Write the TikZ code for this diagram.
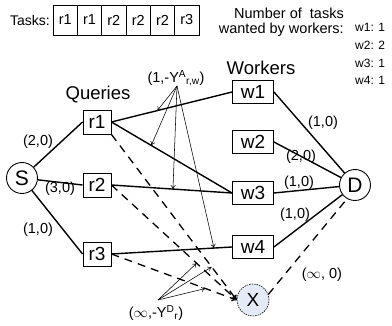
\documentclass[tikz,border=0pt]{standalone}
\usepackage{fontspec}
\setmainfont{Liberation Sans}
\usetikzlibrary{arrows.meta}
\definecolor{xfill}{HTML}{E4EBF7}
\begin{document}
\begin{tikzpicture}[x=1pt,y=-1pt,
  qbox/.style={draw,line width=0.9pt,minimum width=28pt,minimum height=24pt,inner sep=0pt,font=\fontsize{19}{19}\selectfont},
  wbox/.style={draw,line width=0.9pt,minimum width=41pt,minimum height=23pt,inner sep=0pt,font=\fontsize{19}{19}\selectfont},
  term/.style={draw,circle,line width=0.9pt,minimum size=31pt,inner sep=0pt,font=\fontsize{21}{21}\selectfont},
  tbox/.style={draw,line width=0.8pt,minimum width=24.33pt,minimum height=30pt,inner sep=0pt,font=\fontsize{14.5}{14.5}\selectfont},
  elab/.style={font=\fontsize{14.5}{14.5}\selectfont,inner sep=0pt},
  small/.style={font=\fontsize{12}{12}\selectfont,inner sep=0pt},
  hdr/.style={font=\fontsize{18.5}{18.5}\selectfont,inner sep=0pt},
  edge/.style={line width=1.4pt},
  dedge/.style={line width=1.3pt,dash pattern=on 8pt off 6pt},
  ann/.style={line width=0.55pt,-{To[length=4pt,width=5pt]}},
]
\useasboundingbox[fill=white] (0,0) rectangle (392,326);

% task row
\node[font=\fontsize{14}{14}\selectfont,inner sep=0pt] (tl) at (30,20) {Tasks:};
\node[tbox] (t1) at (65.2,20) {r1};
\node[tbox] (t2) at (89.5,20) {r1};
\node[tbox] (t3) at (113.8,20) {r2};
\node[tbox] (t4) at (138.2,20) {r2};
\node[tbox] (t5) at (162.5,20) {r2};
\node[tbox] (t6) at (186.8,20) {r3};

\node[elab,anchor=east] (n1) at (344,13) {Number of\ \ tasks};
\node[elab,anchor=east] (n2) at (344,30) {wanted by workers:};
\node[small,anchor=west] (c1) at (355,27) {w1: 1};
\node[small,anchor=west] (c2) at (355,45) {w2: 2};
\node[small,anchor=west] (c3) at (355,63) {w3: 1};
\node[small,anchor=west] (c4) at (355,80) {w4: 1};

% headers
\node[hdr] (ql) at (98,95) {Queries};
\node[hdr] (wl) at (261,68) {Workers};

% nodes
\node[term] (S) at (22,178) {S};
\node[qbox] (r1) at (97,122) {r1};
\node[qbox] (r2) at (97,185) {r2};
\node[qbox] (r3) at (97,254) {r3};
\node[wbox] (w1) at (253,92) {w1};
\node[wbox] (w2) at (253,142) {w2};
\node[wbox] (w3) at (253,193) {w3};
\node[wbox] (w4) at (253,247) {w4};
\node[term] (D) at (355,185) {D};
\node[circle,draw,line width=0.6pt,dash pattern=on 1.5pt off 1pt,fill=xfill,minimum size=32pt,inner sep=0pt,font=\fontsize{19}{19}\selectfont] (X) at (253,300) {X};

% solid edges
\draw[edge] (S) -- (r1.west);
\draw[edge] (S) -- (r2.west);
\draw[edge] (S) -- (r3.west);
\draw[edge] (r1.east) -- (w1.west);
\draw[edge] (r1.east) -- (w3.west);
\draw[edge] (r2.east) -- (w3.west);
\draw[edge] (r3.east) -- (w4.west);
\draw[edge] (w1.east) -- (D);
\draw[edge] (w2.east) -- (D);
\draw[edge] (w3.east) -- (D);
\draw[edge] (w4.east) -- (D);

% dashed edges
\draw[dedge,-{To[length=5pt,width=6pt]}] (r1.south east) -- (X.west);
\draw[dedge,-{To[length=5pt,width=6pt]}] (r2.east) -- (X.west);
\draw[dedge,-{To[length=5pt,width=6pt]}] (r3.east) -- (X.west);
\draw[dedge] (X.20) -- (D.240);

% edge labels
\node[elab] (l1) at (38,142) {(2,0)};
\node[elab] (l2) at (60,189) {(3,0)};
\node[elab] (l3) at (38,230) {(1,0)};
\node[elab] (l4) at (323,123) {(1,0)};
\node[elab] (l5) at (301,157) {(2,0)};
\node[elab] (l6) at (299,183) {(1,0)};
\node[elab] (l7) at (295,215) {(1,0)};
\node[elab] (l8) at (322,275) {($\infty$, 0)};
\node[elab] (la) at (176,78) {(1,-Y\textsuperscript{A}\textsubscript{r,w})};
\node[elab] (ld) at (156,313) {($\infty$,-Y\textsuperscript{D}\textsubscript{r})};

% annotation arrows
\coordinate (ya) at (177,86);
\coordinate (yd) at (158,300);
\path (r1.east) -- (w1.west) coordinate[pos=0.38] (a1);
\path (r1.east) -- (w3.west) coordinate[pos=0.33] (a2);
\path (r2.east) -- (w3.west) coordinate[pos=0.51] (a3);
\path (r3.east) -- (w4.west) coordinate[pos=0.85] (a4);
\path (r2.east) -- (X.west) coordinate[pos=0.68] (d1);
\path (r1.south east) -- (X.west) coordinate[pos=0.8] (d2);
\path (r3.east) -- (X.west) coordinate[pos=0.75] (d3);
\draw[ann] (ya) -- (a1);
\draw[ann] (ya) -- (a2);
\draw[ann] (ya) -- (a3);
\draw[ann] (ya) -- (a4);
\draw[ann] (yd) -- (d1);
\draw[ann] (yd) -- (d2);
\draw[ann] (yd) -- (d3);
\end{tikzpicture}
\end{document}
